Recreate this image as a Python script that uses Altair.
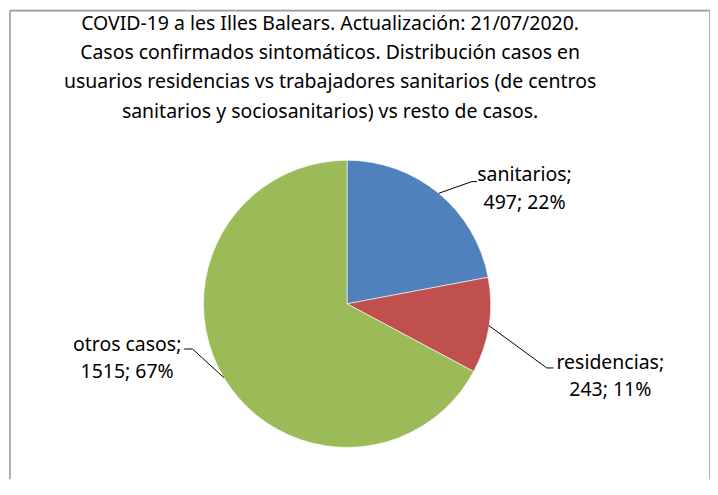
import math
import altair as alt
import pandas as pd

# ---- data -------------------------------------------------------------
categories = ["sanitarios", "residencias", "otros casos"]
values = [497, 243, 1515]
colors = ["#4F81BD", "#C0504D", "#9BBB59"]

title_lines = [
    "COVID-19 a les Illes Balears. Actualización: 21/07/2020.",
    "Casos confirmados sintomáticos. Distribución casos en",
    "usuarios residencias vs trabajadores sanitarios (de centros",
    "sanitarios y sociosanitarios) vs resto de casos.",
]

# ---- layout (pixels, view coordinates) -------------------------------
W, H = 702, 470
CX, CY = 338, 294          # pie centre
R = 144                    # pie radius
FONT = "Noto Sans"
FS = 19.5
TITLE_X, TITLE_Y = 321, 13   # centre of first title line
# label first-line centre, offset from pie centre
label_off = [(178, -129), (264, 59), (-220.5, 41)]
# leader line elbow and end, offset from pie centre
elbow_off = [(125.3, -122.6), (200.3, 64.3), (-155.0, 45.3)]
end_off = [(130.3, -122.6), (207.0, 64.3), (-163.3, 45.3)]

# ---- derived tables ---------------------------------------------------
total = sum(values)
pcts = [round(v * 100 / total) for v in values]

pie_df = pd.DataFrame({
    "category": categories,
    "value": values,
    "order": list(range(len(values))),
})

lab_rows, line_rows = [], []
cum = 0
for i, (c, v, p) in enumerate(zip(categories, values, pcts)):
    mid = (cum + v / 2) / total * 2 * math.pi
    cum += v
    lab_rows.append({
        "category": c,
        "label": f"{c};\n{v}; {p}%",
        "lx": CX + label_off[i][0],
        "ly": CY + label_off[i][1],
    })
    pts = [
        (CX + R * math.sin(mid), CY - R * math.cos(mid)),
        (CX + elbow_off[i][0], CY + elbow_off[i][1]),
        (CX + end_off[i][0], CY + end_off[i][1]),
    ]
    for s, (px, py) in enumerate(pts):
        line_rows.append({"category": c, "step": s, "px": px, "py": py})

lab_df = pd.DataFrame(lab_rows)
line_df = pd.DataFrame(line_rows)
one = pd.DataFrame({"k": [0]})

# ---- marks ------------------------------------------------------------
pie = alt.Chart(pie_df).mark_arc(radius=R, stroke="white", strokeWidth=0.6).encode(
    theta=alt.Theta("value:Q", stack=True),
    order=alt.Order("order:Q"),
    color=alt.Color("category:N", scale=alt.Scale(domain=categories, range=colors), legend=None),
    x=alt.value(CX),
    y=alt.value(CY),
)

leaders = alt.Chart(line_df).mark_line(color="black", strokeWidth=1).encode(
    x=alt.X("px:Q", scale=None, axis=None),
    y=alt.Y("py:Q", scale=None, axis=None),
    detail="category:N",
    order="step:Q",
)

labels = alt.Chart(lab_df).mark_text(
    font=FONT, fontSize=FS, lineBreak="\n", lineHeight=27.5,
    align="center", baseline="middle", color="black",
).encode(
    x=alt.X("lx:Q", scale=None, axis=None),
    y=alt.Y("ly:Q", scale=None, axis=None),
    text="label:N",
)

title = alt.Chart(one).mark_text(
    font=FONT, fontSize=FS, lineHeight=29.5, align="center", baseline="middle", color="black",
).encode(
    x=alt.value(TITLE_X), y=alt.value(TITLE_Y), text=alt.value(title_lines),
)

FRAME = "#9a9a9a"
frame_top = alt.Chart(one).mark_rule(color=FRAME, strokeWidth=1.6).encode(
    x=alt.value(0), x2=alt.value(W), y=alt.value(0))
frame_left = alt.Chart(one).mark_rule(color=FRAME, strokeWidth=1.6).encode(
    x=alt.value(0), y=alt.value(0), y2=alt.value(H))
frame_right = alt.Chart(one).mark_rule(color=FRAME, strokeWidth=1.6).encode(
    x=alt.value(W), y=alt.value(0), y2=alt.value(H))

chart = alt.layer(pie, leaders, labels, title, frame_top, frame_left, frame_right).properties(
    width=W, height=H,
    autosize=alt.AutoSizeParams(type="none"),
    padding={"left": 2, "top": 2, "right": 0, "bottom": 0},
).configure_view(stroke=None)

chart.save("out.html", embed_options={"renderer": "svg", "actions": False})
